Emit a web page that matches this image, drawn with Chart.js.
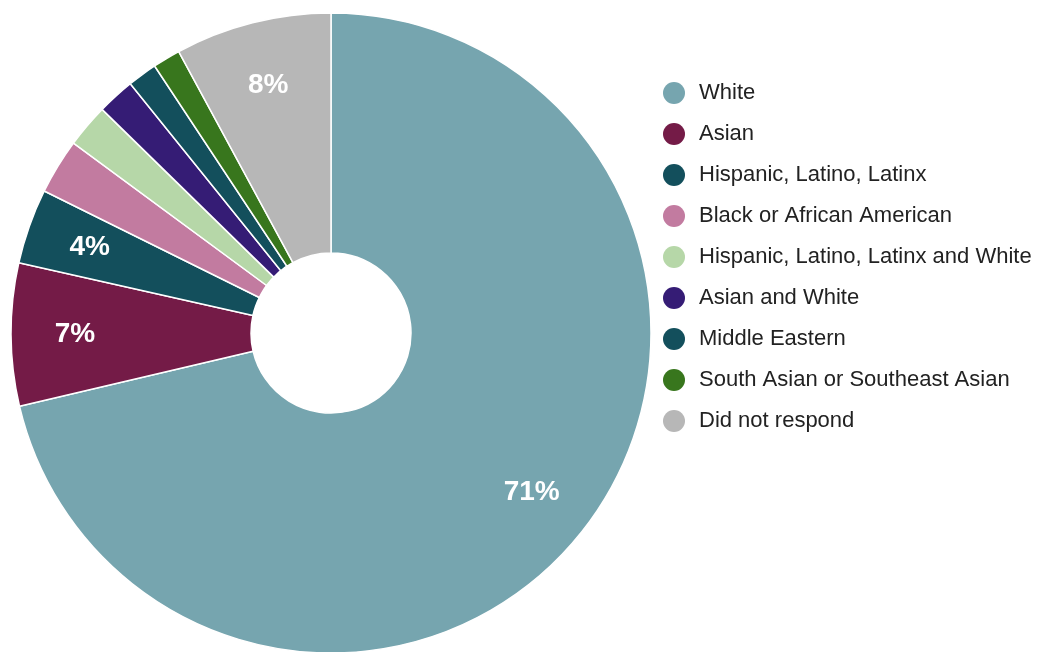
<!DOCTYPE html>
<html>
<head>
<meta charset="utf-8">
<style>
  html, body { margin: 0; padding: 0; background: #ffffff; }
  #wrap { width: 1038px; height: 652px; }
</style>
<script src="https://cdn.jsdelivr.net/npm/chart.js@4/dist/chart.umd.min.js"></script>
</head>
<body>
<div id="wrap"><canvas id="c" width="1038" height="652"></canvas></div>
<script>
const categories = [
  "White",
  "Asian",
  "Hispanic, Latino, Latinx",
  "Black or African American",
  "Hispanic, Latino, Latinx and White",
  "Asian and White",
  "Middle Eastern",
  "South Asian or Southeast Asian",
  "Did not respond"
];
const shares = [71.4, 7.2, 3.8, 2.8, 2.2, 1.9, 1.5, 1.4, 7.9];
const sliceColors = [
  "#76a5af", "#741b47", "#134f5c", "#c27ba0", "#b6d7a8",
  "#351c75", "#134f5c", "#38761d", "#b7b7b7"
];
const labelThreshold = 3.5;

function makeDot(color, d) {
  const c = document.createElement("canvas");
  c.width = d; c.height = d;
  const g = c.getContext("2d");
  g.fillStyle = color;
  g.beginPath();
  g.arc(d / 2, d / 2, d / 2, 0, Math.PI * 2);
  g.fill();
  return c;
}

const sliceLabels = {
  id: "sliceLabels",
  afterDatasetsDraw(chart) {
    const ctx = chart.ctx;
    const meta = chart.getDatasetMeta(0);
    const data = chart.data.datasets[0].data;
    const total = data.reduce((a, b) => a + b, 0);
    ctx.save();
    ctx.fillStyle = "#ffffff";
    ctx.font = "bold 28px 'Liberation Sans', Arial, sans-serif";
    ctx.textAlign = "center";
    ctx.textBaseline = "middle";
    meta.data.forEach((arc, i) => {
      const pct = data[i] / total * 100;
      if (pct < labelThreshold) return;
      const p = arc.getProps(["x", "y", "startAngle", "endAngle", "outerRadius"], true);
      const mid = (p.startAngle + p.endAngle) / 2;
      const r = p.outerRadius * 0.8;
      ctx.fillText(Math.round(pct) + "%", p.x + Math.cos(mid) * r, p.y + Math.sin(mid) * r);
    });
    ctx.restore();
  }
};

const baseGenerate = Chart.overrides.doughnut.plugins.legend.labels.generateLabels;

new Chart(document.getElementById("c"), {
  type: "doughnut",
  data: {
    labels: categories,
    datasets: [{
      data: shares,
      backgroundColor: sliceColors,
      borderColor: "#ffffff",
      borderWidth: 1.5,
      radius: 320,
      cutout: "25%"
    }]
  },
  options: {
    responsive: false,
    animation: false,
    layout: { padding: { top: 14, left: 21, right: 0, bottom: 0 } },
    plugins: {
      tooltip: { enabled: false },
      legend: {
        position: "right",
        align: "start",
        maxWidth: 397,
        title: {
          display: true,
          text: "",
          font: { size: 10, lineHeight: 1 },
          padding: { top: 39, bottom: 0 }
        },
        labels: {
          usePointStyle: true,
          pointStyleWidth: 28,
          boxWidth: 28,
          boxHeight: 22,
          padding: 19,
          color: "#222222",
          font: { size: 22, family: "'Liberation Sans', Arial, sans-serif" },
          generateLabels(chart) {
            const items = baseGenerate(chart);
            items.forEach((it, i) => { it.pointStyle = makeDot(sliceColors[i], 22); });
            return items;
          }
        }
      }
    }
  },
  plugins: [sliceLabels]
});
</script>
</body>
</html>
